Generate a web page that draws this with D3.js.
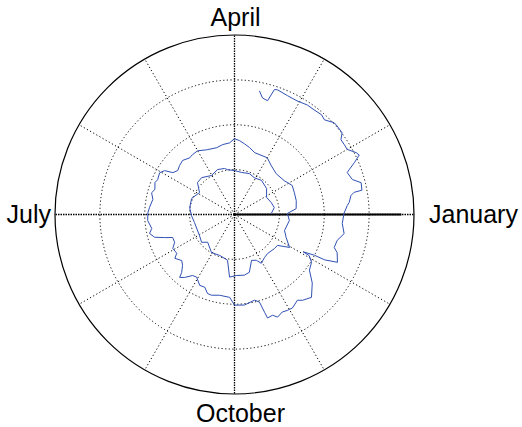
<!DOCTYPE html>
<html>
<head>
<meta charset="utf-8">
<script src="https://cdn.jsdelivr.net/npm/d3@7"></script>
<style>
  html, body { margin: 0; padding: 0; background: #fff; }
  svg { display: block; }
  text { font-family: "Liberation Sans", Arial, Helvetica, sans-serif; }
</style>
</head>
<body>
<script>
// ---- data (months elapsed since 1 January, value on radial axis) ----
const months = [
  0.05,0.33,0.60,0.93,1.30,1.72,2.05,2.33,2.68,3.00,3.29,3.41,3.69,4.02,4.39,4.64,4.93,5.32,5.71,6.04,
  6.38,7.03,7.34,7.53,7.96,8.34,8.71,8.85,9.06,9.31,9.48,9.68,9.85,9.96,10.16,10.34,10.65,10.81,10.97,11.20,
  11.41,11.79,12.04,12.18,12.42,12.67,12.89,13.14,13.48,13.76,14.00,14.40,14.58,14.73,14.87,15.00,15.13,15.32,15.50,15.78,
  16.00,16.17,16.28,16.46,16.61,16.74,16.86,16.93,17.03,17.19,17.27,17.42,17.51,17.65,17.84,17.96,18.13,18.32,18.42,18.53,
  18.61,18.68,18.83,18.96,19.13,19.21,19.37,19.48,19.59,19.63,19.72,19.85,19.96,20.13,20.26,20.37,20.47,20.65,20.89,21.00,
  21.21,21.44,21.53,21.57,21.59,21.69,21.76,21.87,21.96,22.06,22.21,22.28,22.43,22.62,22.78,22.94,23.04,23.05,23.10,23.11,
  23.17,23.32,23.39,23.53,23.67,23.84,24.02,24.15,24.20,24.31,24.35,24.36,24.47,24.55,24.68,24.71,24.78,24.85,24.90,25.00,
  25.08,25.17,25.24,25.36,25.42,25.55,25.63,25.76,25.88,26.04,26.20,26.37,26.41,26.46,26.55,26.62
];
const values = [
  0.82,0.90,0.86,0.81,0.92,0.97,0.93,0.97,0.95,0.98,1.01,1.05,1.07,1.01,1.10,1.09,0.92,1.02,1.01,0.96,
  0.91,0.91,0.96,0.86,0.99,0.97,1.03,1.40,1.36,1.37,1.33,1.09,1.13,1.24,1.17,1.14,1.17,1.18,1.43,1.26,
  1.17,1.23,1.18,1.38,1.41,1.42,1.44,1.34,1.30,1.36,1.46,1.45,1.53,1.59,1.65,1.69,1.60,1.58,1.54,1.57,
  1.64,1.63,1.61,1.67,1.64,1.60,1.66,1.84,1.91,1.88,1.91,1.86,1.91,1.85,1.90,1.93,1.94,1.87,1.94,1.85,
  1.64,1.47,1.47,1.57,1.55,1.65,1.56,1.62,1.75,1.86,1.79,1.65,1.63,1.76,1.75,1.86,1.87,1.83,1.85,2.02,
  2.03,1.96,2.03,2.28,2.42,2.40,2.48,2.42,2.44,2.45,2.37,2.44,2.52,2.31,2.08,2.02,1.90,1.74,2.00,2.25,
  2.53,2.44,2.34,2.36,2.48,2.41,2.44,2.52,2.57,2.63,2.71,2.89,2.91,2.74,2.68,2.74,2.91,3.08,3.04,2.90,
  2.90,2.90,3.01,3.02,3.02,2.91,2.95,2.93,2.93,2.89,2.90,2.94,2.92,2.64,2.67,2.81
];
const ringValues = [1, 2, 3];
const maxValue = 4;
const spokeMonths = [0, 1, 2, 3, 4, 5, 6, 7, 8, 9, 10, 11];
const monthLabels = ["January", "April", "July", "October"];
const labelMonths = [0, 3, 6, 9];

// ---- layout ----
const W = 522, H = 427;
const cx = 234.5, cy = 214.5, R = 179.5;
const lineColor = "#3050b4";

const svg = d3.select("body").append("svg")
  .attr("width", W).attr("height", H)
  .attr("viewBox", `0 0 ${W} ${H}`);

const g = svg.append("g").attr("transform", `translate(${cx},${cy})`);

const r = d3.scaleLinear().domain([0, maxValue]).range([0, R]);
// months -> d3 radial angle (0 at top, clockwise); January at right, counter-clockwise
const a = d3.scaleLinear().domain([0, 12]).range([Math.PI / 2, Math.PI / 2 - 2 * Math.PI]);

// rings
g.selectAll("circle.ring").data(ringValues).join("circle")
  .attr("class", "ring")
  .attr("r", d => r(d))
  .attr("fill", "none")
  .attr("stroke", "#000")
  .attr("stroke-width", 1)
  .attr("stroke-dasharray", "1.2,2.4");

const px = (m, v) => r(v) * Math.sin(a(m));
const py = (m, v) => -r(v) * Math.cos(a(m));

// spokes
g.selectAll("line.spoke").data(spokeMonths.filter(m => m % 3 !== 0)).join("line")
  .attr("class", "spoke")
  .attr("x1", 0).attr("y1", 0)
  .attr("x2", d => px(d, maxValue)).attr("y2", d => py(d, maxValue))
  .attr("stroke", "#000")
  .attr("stroke-width", 1)
  .attr("stroke-dasharray", "1.2,2.4");

// main axes spokes (denser dots)
g.selectAll("line.axis").data(spokeMonths.filter(m => m % 3 === 0)).join("line")
  .attr("class", "axis")
  .attr("x1", 0).attr("y1", 0)
  .attr("x2", d => px(d, maxValue)).attr("y2", d => py(d, maxValue))
  .attr("stroke", "#000")
  .attr("stroke-width", 1.3)
  .attr("stroke-dasharray", "1.5,1");

// solid January axis segment
g.append("line")
  .attr("x1", 0).attr("y1", 0)
  .attr("x2", px(0, 3.72)).attr("y2", py(0, 3.72))
  .attr("stroke", "#000")
  .attr("stroke-width", 2);

// outer circle
g.append("circle")
  .attr("r", r(maxValue))
  .attr("fill", "none")
  .attr("stroke", "#000")
  .attr("stroke-width", 1.2);

// data line
const pts = months.map((m, i) => [a(m), r(values[i])]);
g.append("path")
  .datum(pts)
  .attr("d", d3.lineRadial().angle(d => d[0]).radius(d => d[1]))
  .attr("fill", "none")
  .attr("stroke", lineColor)
  .attr("stroke-width", 1)
  .attr("stroke-linejoin", "round");

// month labels
const labelPos = {
  0: {x: cx + R + 15, y: cy + 8, anchor: "start"},
  3: {x: cx + 1, y: cy - R - 9, anchor: "middle"},
  6: {x: cx - R - 4, y: cy + 8, anchor: "end"},
  9: {x: cx + 6, y: cy + R + 28, anchor: "middle"}
};
svg.selectAll("text.month").data(labelMonths).join("text")
  .attr("class", "month")
  .attr("x", d => labelPos[d].x)
  .attr("y", d => labelPos[d].y)
  .attr("text-anchor", d => labelPos[d].anchor)
  .attr("font-size", 25)
  .attr("fill", "#000")
  .text((d, i) => monthLabels[i]);
</script>
</body>
</html>
